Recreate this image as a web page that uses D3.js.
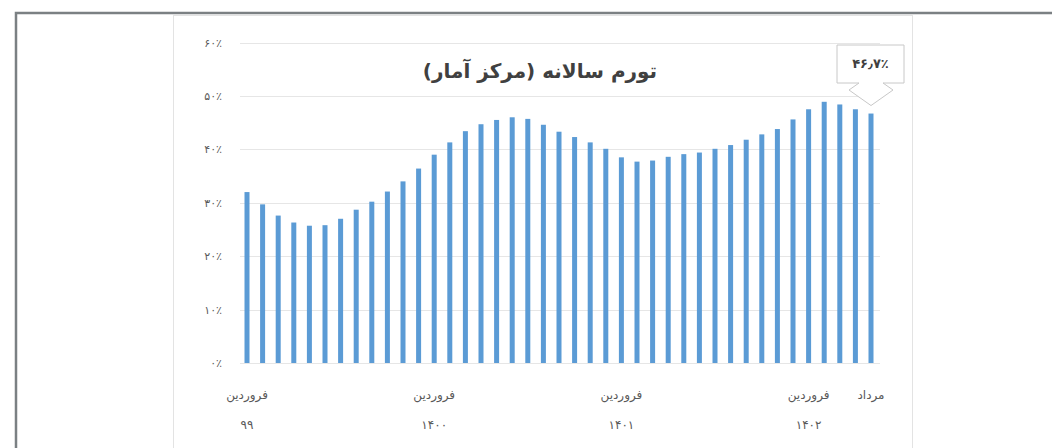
<!DOCTYPE html>
<html>
<head>
<meta charset="utf-8">
<script src="https://cdn.jsdelivr.net/npm/d3@7"></script>
<style>
  body { margin: 0; background: #fff; }
  svg { display: block; font-family: "DejaVu Sans", sans-serif; }
</style>
</head>
<body>
<svg id="chart" width="1052" height="448"></svg>
<script>
// ماه‌ها از فروردین ۹۹ تا مرداد ۱۴۰۲
var months = ["فروردین","اردیبهشت","خرداد","تیر","مرداد","شهریور","مهر","آبان","آذر","دی","بهمن","اسفند"];
var years = ["۹۹","۱۴۰۰","۱۴۰۱","۱۴۰۲"];

// تورم سالانه (درصد)
var inflation = [
  32.0, 29.7, 27.6, 26.3, 25.7, 25.8, 27.0, 28.7, 30.2, 32.1, 34.0, 36.4,
  39.0, 41.3, 43.4, 44.7, 45.5, 46.0, 45.7, 44.6, 43.3, 42.3, 41.3, 40.1,
  38.5, 37.7, 37.9, 38.6, 39.1, 39.4, 40.1, 40.8, 41.8, 42.8, 43.8, 45.6,
  47.5, 48.9, 48.4, 47.5, 46.7
];

var yTicks = [0, 10, 20, 30, 40, 50, 60];
var yTickLabels = ["۰٪","۱۰٪","۲۰٪","۳۰٪","۴۰٪","۵۰٪","۶۰٪"];

var xTickIndex = [0, 12, 24, 36, 40];
var xTickMonth = ["فروردین","فروردین","فروردین","فروردین","مرداد"];
var xTickYear = ["۹۹","۱۴۰۰","۱۴۰۱","۱۴۰۲",""];

var title = "تورم سالانه (مرکز آمار)";
var lastLabel = "۴۶٫۷٪";

var categories = [];
for (var i = 0; i < inflation.length; i++) {
  categories.push(months[i % 12] + " " + years[Math.floor(i / 12)]);
}

var svg = d3.select("#chart");

// outer frame
svg.append("path")
  .attr("d", "M16,448 V13 H1052")
  .attr("fill", "none")
  .attr("stroke", "#7b8083")
  .attr("stroke-width", 2.5);

// chart area border
svg.append("rect")
  .attr("x", 173.5).attr("y", 15.5)
  .attr("width", 739).attr("height", 440)
  .attr("fill", "#fff")
  .attr("stroke", "#e3e3e3");

var x = d3.scalePoint()
  .domain(d3.range(inflation.length))
  .range([247, 871]);

var y = d3.scaleLinear()
  .domain([0, 60])
  .range([363, 42.5]);

// grid
svg.append("g").selectAll("line")
  .data(yTicks)
  .enter().append("line")
  .attr("x1", 240).attr("x2", 880)
  .attr("y1", function(d) { return Math.round(y(d)) + 0.5; })
  .attr("y2", function(d) { return Math.round(y(d)) + 0.5; })
  .attr("stroke", "#e6e6e6")
  .attr("stroke-width", 1);

// y labels
svg.append("g").selectAll("text")
  .data(yTicks)
  .enter().append("text")
  .attr("x", 222)
  .attr("y", function(d) { return y(d) + 4; })
  .attr("text-anchor", "end")
  .attr("direction", "ltr")
  .attr("font-size", 11)
  .attr("fill", "#595959")
  .text(function(d, i) { return yTickLabels[i]; });

// bars
svg.append("g").selectAll("rect")
  .data(inflation)
  .enter().append("rect")
  .attr("x", function(d, i) { return x(i) - 2.5; })
  .attr("width", 5)
  .attr("y", function(d) { return y(d); })
  .attr("height", function(d) { return y(0) - y(d); })
  .attr("fill", "#5b9bd5")
  .append("title")
  .text(function(d, i) { return categories[i] + ": " + d; });

// x labels
var xl = svg.append("g").selectAll("g")
  .data(xTickIndex)
  .enter().append("g")
  .attr("transform", function(d) { return "translate(" + x(d) + ",0)"; });

xl.append("text")
  .attr("y", 399)
  .attr("text-anchor", "middle")
  .attr("font-size", 12)
  .attr("fill", "#595959")
  .text(function(d, i) { return xTickMonth[i]; });

xl.append("text")
  .attr("y", 429)
  .attr("text-anchor", "middle")
  .attr("font-size", 12)
  .attr("fill", "#595959")
  .text(function(d, i) { return xTickYear[i]; });

// title
svg.append("text")
  .attr("x", 540)
  .attr("y", 78)
  .attr("text-anchor", "middle")
  .attr("font-size", 20)
  .attr("font-weight", "bold")
  .attr("fill", "#404040")
  .text(title);

// callout for last value
var last = inflation.length - 1;
var cx = x(last), tipY = y(inflation[last]) - 8;
var bx0 = 837, bx1 = 904, by0 = 45, by1 = 83;
svg.append("path")
  .attr("d", "M" + bx0 + "," + by0 + " H" + bx1 + " V" + by1 +
             " H" + (cx + 12) + " L" + (cx + 22) + "," + (by1 + 7) +
             " L" + cx + "," + tipY + " L" + (cx - 22) + "," + (by1 + 7) +
             " L" + (cx - 12) + "," + by1 + " H" + bx0 + " Z")
  .attr("fill", "#fff")
  .attr("stroke", "#c8c8c8")
  .attr("stroke-width", 1);

svg.append("text")
  .attr("x", (bx0 + bx1) / 2)
  .attr("y", 68)
  .attr("text-anchor", "middle")
  .attr("direction", "ltr")
  .attr("font-size", 13)
  .attr("font-weight", "bold")
  .attr("fill", "#404040")
  .text(lastLabel);
</script>
</body>
</html>
